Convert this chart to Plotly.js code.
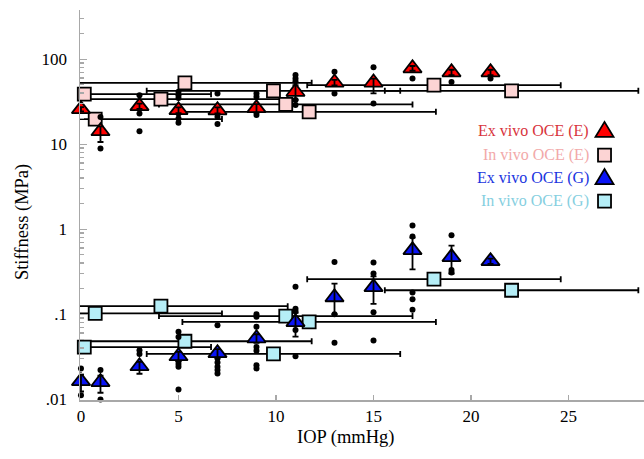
<!DOCTYPE html>
<html><head><meta charset="utf-8">
<script src="https://cdn.plot.ly/plotly-3.0.1.min.js"></script>
<style>body{margin:0;background:#fff}#chart{width:644px;height:459px}</style>
</head><body><div id="chart"></div>
<script>
// In vivo OCE (9 eyes): IOP with horizontal error, Young's (E) and shear (G) stiffness
const inVivoIOP = [0.17, 0.73, 4.1, 5.33, 9.87, 10.5, 11.7, 18.1, 22.08];
const inVivoIOPerr = [6.5, 6.5, 6.5, 6.5, 6.5, 6.5, 6.5, 6.5, 6.5];
const inVivoE = [38.7, 19.7, 33.8, 52.6, 42.4, 29.3, 24.0, 49.4, 42.4];
const inVivoG = [0.041, 0.102, 0.124, 0.048, 0.034, 0.095, 0.081, 0.258, 0.191];

// Ex vivo OCE: mean and error at set IOP levels
const exVivoIOP = [0, 1, 3, 5, 7, 9, 11, 13, 15, 17, 19, 21];
const exVivoE = [25.8, 14.2, 28, 25.1, 25, 26.5, 41.3, 53, 53, 78, 70, 70];
const exVivoEerrPlus = [1.5, 2, 2, 2, 2, 3, 8, 4, 6, 5, 5, 5];
const exVivoEerrMinus = [1.5, 3.6, 2, 2, 2, 3, 8, 4, 13.5, 5, 5, 5];
const exVivoG = [0.0163, 0.0159, 0.0244, 0.032, 0.0348, 0.052, 0.0805, 0.158, 0.208, 0.566, 0.469, 0.42];
const exVivoGerrPlus = [0.003, 0.003, 0.003, 0.004, 0.004, 0.006, 0.023, 0.07, 0.07, 0.23, 0.17, 0.03];
const exVivoGerrMinus = [0.004, 0.004, 0.0045, 0.004, 0.004, 0.006, 0.026, 0.058, 0.076, 0.23, 0.17, 0.03];

// Individual ex vivo samples (black dots)
const dotEIOP = [1,1, 3,3,3, 5,5,5,5,5,5, 7,7,7, 9,9,9,9, 11,11,11,11,11, 13,13, 15,15, 17, 19, 21];
const dotE = [20.9, 8.9, 37.7, 23, 14.2, 41.3, 37.7, 35, 23, 20, 17.8, 39.5, 21, 17.2, 39.5, 36, 22, 24, 65, 59, 55, 33, 28.8, 71, 39.5, 80, 30, 59, 54, 59];
const dotGIOP = [0,0, 1,1, 3,3, 5,5,5,5,5,5,5, 7,7,7,7,7,7, 9,9,9,9,9,9,9, 11,11,11,11,11, 13,13,13, 15,15,15,15, 17,17,17,17,17, 19,19,19];
const dotG = [0.023, 0.0111, 0.022, 0.0099, 0.0377, 0.034, 0.062, 0.054, 0.03, 0.028, 0.026, 0.024, 0.013, 0.074, 0.03, 0.027, 0.024, 0.022, 0.02, 0.1, 0.093, 0.071, 0.041, 0.037, 0.025, 0.023, 0.21, 0.116, 0.108, 0.065, 0.032, 0.41, 0.1, 0.046, 0.405, 0.3, 0.105, 0.049, 1.1, 0.82, 0.18, 0.15, 0.113, 0.85, 0.33, 0.31];

const seriesNames = ['Ex vivo OCE (E)', 'In vivo OCE (E)', 'Ex vivo OCE (G)', 'In vivo OCE (G)'];
const seriesText = ['#d8343c', '#f2a9a9', '#1a35e0', '#86cfdf'];
const seriesFill = ['#ff0000', '#fcd4d4', '#0a14f5', '#b5eef7'];
const xTitle = 'IOP (mmHg)';
const yTitle = 'Stiffness (MPa)';

const FONT = 'Liberation Serif';
const ebX = {type: 'data', array: inVivoIOPerr, visible: true, color: '#000', thickness: 1.8, width: 3};

const traces = [];
// horizontal error bars (clipped at axis)
[inVivoE, inVivoG].forEach(ys => traces.push({
  x: inVivoIOP, y: ys, type: 'scatter', mode: 'markers', marker: {size: 1, opacity: 0},
  error_x: ebX, hoverinfo: 'skip', showlegend: false, cliponaxis: true
}));
// in vivo squares
[[inVivoE, 1], [inVivoG, 3]].forEach(([ys, i]) => traces.push({
  x: inVivoIOP, y: ys, type: 'scatter', mode: 'markers', name: seriesNames[i],
  marker: {symbol: 'square', size: 13, color: seriesFill[i], line: {color: '#000', width: 1.8}},
  showlegend: false, cliponaxis: false
}));
// sample dots
[[dotEIOP, dotE], [dotGIOP, dotG]].forEach(([xs, ys]) => traces.push({
  x: xs, y: ys, type: 'scatter', mode: 'markers',
  marker: {symbol: 'circle', size: 6, color: '#000'}, showlegend: false, cliponaxis: false
}));
// ex vivo triangles
[[exVivoE, 0], [exVivoG, 2]].forEach(([ys, i]) => traces.push({
  x: exVivoIOP, y: ys, type: 'scatter', mode: 'markers', name: seriesNames[i],
  marker: {symbol: 'triangle-up', size: 16, color: seriesFill[i], line: {color: '#000', width: 1.8}},
  showlegend: false, cliponaxis: false
}));
// vertical error bars on top
[[exVivoE, exVivoEerrPlus, exVivoEerrMinus], [exVivoG, exVivoGerrPlus, exVivoGerrMinus]].forEach(([ys, p, m]) => traces.push({
  x: exVivoIOP, y: ys, type: 'scatter', mode: 'markers', marker: {size: 1, opacity: 0},
  error_y: {type: 'data', array: p, arrayminus: m, visible: true, color: '#000', thickness: 1.8, width: 3},
  hoverinfo: 'skip', showlegend: false, cliponaxis: false
}));

const minorVals = [];
for (let e = -2; e <= 2; e++) for (let k = 2; k <= 9; k++) minorVals.push(k * Math.pow(10, e));

const legendY = [0.69, 0.628, 0.569, 0.51];
const annotations = seriesNames.map((t, i) => ({
  xref: 'paper', yref: 'paper', x: 0.906, y: legendY[i], xanchor: 'right', yanchor: 'middle',
  text: t, showarrow: false, font: {family: FONT, size: 16, color: seriesText[i]}
}));
annotations.push({
  xref: 'paper', yref: 'paper', x: 0.47, y: -0.095, xanchor: 'center', yanchor: 'middle',
  text: xTitle, showarrow: false, font: {family: FONT, size: 18.5, color: '#000'}
});
annotations.push({
  xref: 'paper', yref: 'paper', x: -0.103, y: 0.456, xanchor: 'center', yanchor: 'middle',
  text: yTitle, textangle: -90, showarrow: false, font: {family: FONT, size: 18.5, color: '#000'}
});
const triPath = 'M -9 -6 L 9 -6 L 0 9 Z';
const sqPath = 'M -6.5 -6.5 L 6.5 -6.5 L 6.5 6.5 L -6.5 6.5 Z';
const shapes = seriesNames.map((t, i) => ({
  type: 'path', xref: 'paper', yref: 'paper', xsizemode: 'pixel', ysizemode: 'pixel',
  xanchor: 0.93, yanchor: legendY[i], path: (i % 2 === 0) ? triPath : sqPath,
  fillcolor: seriesFill[i], line: {color: '#000', width: 1.8}
}));

const layout = {
  width: 644, height: 459,
  margin: {l: 80, r: 0, t: 10, b: 59},
  paper_bgcolor: '#fff', plot_bgcolor: '#fff',
  font: {family: FONT, size: 16, color: '#000'},
  xaxis: {
    range: [-0.05, 28.87], showline: true, linecolor: '#a8a8a8', linewidth: 1.5,
    ticks: 'inside', ticklen: 5, tickcolor: '#a8a8a8', tickwidth: 1.2,
    tickvals: [0, 5, 10, 15, 20, 25], showgrid: false, zeroline: false,
    tickfont: {family: FONT, size: 17, color: '#000'}
  },
  yaxis: {
    type: 'log', range: [-2.01, 2.578], showline: true, linecolor: '#a8a8a8', linewidth: 1.5,
    ticks: 'inside', ticklen: 7, tickcolor: '#a8a8a8', tickwidth: 1.2,
    tickmode: 'array', tickvals: [0.01, 0.1, 1, 10, 100], ticktext: ['.01', '.1', '1', '10', '100'],
    minor: {tickmode: 'array', tickvals: minorVals, ticks: 'inside', ticklen: 4, tickcolor: '#a8a8a8', showgrid: false},
    showgrid: false, zeroline: false, ticklabelstandoff: 8,
    tickfont: {family: FONT, size: 17, color: '#000'}
  },
  showlegend: false,
  annotations: annotations,
  shapes: shapes
};

Plotly.newPlot('chart', traces, layout, {staticPlot: true, displayModeBar: false});
</script></body></html>
